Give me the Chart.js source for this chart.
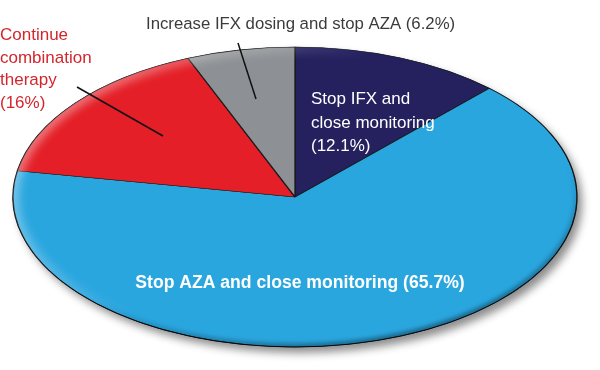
<!DOCTYPE html>
<html>
<head>
<meta charset="utf-8">
<script src="https://cdn.jsdelivr.net/npm/chart.js"></script>
<style>
  html, body { margin: 0; padding: 0; background: #fff; }
  #wrap { width: 600px; height: 370px; }
</style>
</head>
<body>
<div id="wrap"><canvas id="pieChart" width="600" height="370"></canvas></div>
<script>
// Slices, clockwise from 12 o'clock
const categories = [
    'Stop IFX and close monitoring',
    'Stop AZA and close monitoring',
    'Continue combination therapy',
    'Increase IFX dosing and stop AZA'
];
const shares = [12.1, 65.7, 16, 6.2];
const sliceColors = ['#25215f', '#2aa6df', '#e41f27', '#8d9094'];

// Picture is an oval, so the round pie gets stretched to these radii
const ovalRx = 282;
const ovalRy = 150;

const fontFamily = '"Liberation Sans", Arial, Helvetica, sans-serif';

// how each label is broken into lines and where it sits
const labelLayout = [
    { words: [3, 2], pctOwnLine: true, x: 311, y: 104, lh: 23.5, align: 'left', color: '#ffffff', font: '17px ' + fontFamily },
    { words: [5], pctOwnLine: false, x: 300, y: 288, lh: 22, align: 'center', color: '#ffffff', font: 'bold 17.6px ' + fontFamily },
    { words: [1, 1, 1], pctOwnLine: true, x: 0, y: 40, lh: 22.7, align: 'left', color: '#d3262c', font: '17px ' + fontFamily },
    { words: [6], pctOwnLine: false, x: 146, y: 29, lh: 22, align: 'left', color: '#3b3b3b', font: '16.75px ' + fontFamily }
];
const leaderLines = [
    [[77, 87], [163, 136]],
    [[238, 43], [256, 99]]
];

function labelLines(i) {
    const words = categories[i].split(' ');
    const pct = '(' + shares[i] + '%)';
    const lines = [];
    let k = 0;
    labelLayout[i].words.forEach(n => {
        lines.push(words.slice(k, k + n).join(' '));
        k += n;
    });
    if (labelLayout[i].pctOwnLine) lines.push(pct);
    else lines[lines.length - 1] += ' ' + pct;
    return lines;
}

function ovalPath(ctx, x, y) {
    ctx.beginPath();
    ctx.ellipse(x, y, ovalRx, ovalRy, 0, 0, Math.PI * 2);
}

const ovalPie = {
    id: 'ovalPie',
    beforeDatasetsDraw(chart) {
        const ctx = chart.ctx;
        const arc = chart.getDatasetMeta(0).data[0];
        const x = arc.x, y = arc.y, r = arc.outerRadius;
        // drop shadow under the disc
        ctx.save();
        ovalPath(ctx, x, y);
        ctx.shadowColor = 'rgba(0,0,0,0.45)';
        ctx.shadowBlur = 9;
        ctx.shadowOffsetX = 5;
        ctx.shadowOffsetY = 6;
        ctx.fillStyle = '#2a6f93';
        ctx.fill();
        ctx.restore();
        // stretch the round pie into the oval
        ctx.save();
        ctx.translate(x, y);
        ctx.scale(ovalRx / r, ovalRy / r);
        ctx.translate(-x, -y);
    },
    afterDatasetsDraw(chart) {
        const ctx = chart.ctx;
        ctx.restore();
        const arc = chart.getDatasetMeta(0).data[0];
        const x = arc.x, y = arc.y;

        ctx.save();
        ovalPath(ctx, x, y);
        ctx.clip();
        // light bevel on the upper left rim
        let g = ctx.createLinearGradient(x - ovalRx, y - ovalRy, x + ovalRx * 0.2, y + ovalRy);
        g.addColorStop(0, 'rgba(255,255,255,0.55)');
        g.addColorStop(0.45, 'rgba(255,255,255,0.15)');
        g.addColorStop(0.6, 'rgba(255,255,255,0)');
        ctx.filter = 'blur(4px)';
        ctx.lineWidth = 12;
        ctx.strokeStyle = g;
        ovalPath(ctx, x, y);
        ctx.stroke();
        // dark rim at the bottom
        g = ctx.createLinearGradient(x, y - ovalRy, x + ovalRx * 0.3, y + ovalRy);
        g.addColorStop(0, 'rgba(0,0,0,0)');
        g.addColorStop(0.6, 'rgba(0,0,0,0)');
        g.addColorStop(1, 'rgba(0,0,0,0.4)');
        ctx.filter = 'blur(2px)';
        ctx.lineWidth = 7;
        ctx.strokeStyle = g;
        ovalPath(ctx, x, y);
        ctx.stroke();
        ctx.restore();

        // thin outline, darker towards the bottom
        ctx.save();
        const og = ctx.createLinearGradient(x, y - ovalRy, x, y + ovalRy);
        og.addColorStop(0, 'rgba(0,0,0,0.15)');
        og.addColorStop(0.45, 'rgba(0,0,0,0.3)');
        og.addColorStop(1, 'rgba(0,0,0,0.9)');
        ctx.lineWidth = 1;
        ctx.strokeStyle = og;
        ovalPath(ctx, x, y);
        ctx.stroke();
        ctx.restore();
    },
    afterDraw(chart) {
        const ctx = chart.ctx;
        ctx.save();
        ctx.strokeStyle = '#111';
        ctx.lineWidth = 1.5;
        leaderLines.forEach(seg => {
            ctx.beginPath();
            ctx.moveTo(seg[0][0], seg[0][1]);
            ctx.lineTo(seg[1][0], seg[1][1]);
            ctx.stroke();
        });
        labelLayout.forEach((lay, i) => {
            ctx.font = lay.font;
            ctx.fillStyle = lay.color;
            ctx.textAlign = lay.align;
            ctx.textBaseline = 'alphabetic';
            labelLines(i).forEach((line, j) => {
                ctx.fillText(line, lay.x, lay.y + j * lay.lh);
            });
        });
        ctx.restore();
    }
};

new Chart(document.getElementById('pieChart'), {
    type: 'pie',
    data: {
        labels: categories,
        datasets: [{
            data: shares,
            backgroundColor: sliceColors,
            borderColor: '#1b1b1b',
            borderWidth: 0.7,
            hoverOffset: 0,
            offset: 0
        }]
    },
    options: {
        responsive: false,
        animation: false,
        events: [],
        layout: {
            padding: { left: 145, right: 155, top: 47, bottom: 23 }
        },
        plugins: {
            legend: { display: false },
            tooltip: { enabled: false }
        }
    },
    plugins: [ovalPie]
});
</script>
</body>
</html>
